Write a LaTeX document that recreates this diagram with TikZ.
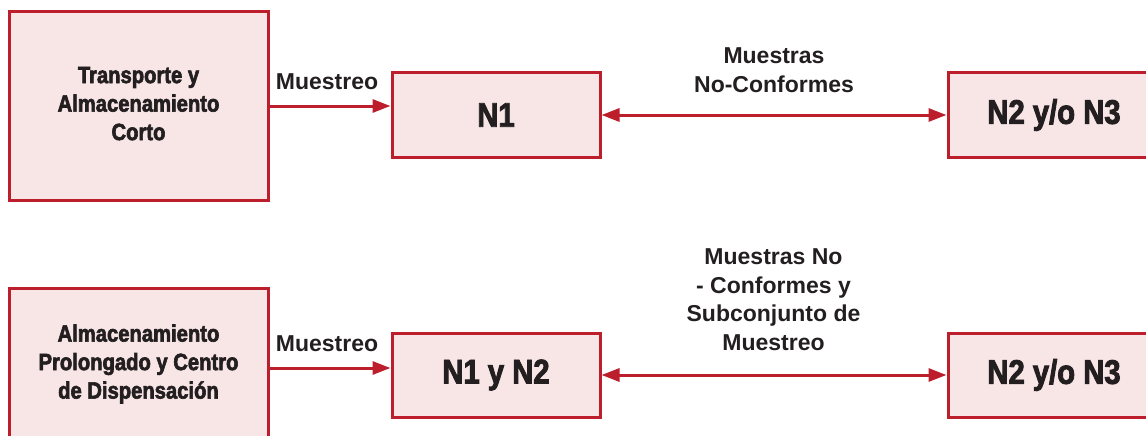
\documentclass[tikz,border=0pt]{standalone}
\usepackage{fontspec}
\usetikzlibrary{arrows.meta}
\setmainfont{Liberation Sans}
% condensed heavy face for the box captions
\newfontfamily\boxfont[FakeStretch=0.86,FakeBold=2.6]{Liberation Sans Bold}
\newfontfamily\labelfont{Liberation Sans Bold}
\definecolor{boxred}{HTML}{BC1F2B}
\definecolor{boxfill}{HTML}{F8E5E6}
\definecolor{ink}{HTML}{231F20}
\tikzset{
  stagebox/.style={draw=boxred, fill=boxfill, line width=3pt, inner sep=0pt,
    text=ink, align=center},
  smallcap/.style={stagebox, font=\boxfont\fontsize{23.5}{28.5}\selectfont},
  bigcap/.style={stagebox, font=\boxfont\fontsize{34}{40}\selectfont,
    minimum width=208pt, minimum height=84pt},
  edgelabel/.style={inner sep=0pt, text=ink, align=center,
    font=\labelfont\fontsize{23}{28.7}\selectfont},
  flow/.style={draw=boxred, line width=3pt,
    -{Triangle[length=18pt,width=13pt]}},
  twoway/.style={draw=boxred, line width=3pt,
    {Triangle[length=18pt,width=13pt]}-{Triangle[length=18pt,width=13pt]}}
}
\begin{document}
\begin{tikzpicture}[x=1pt,y=-1pt]
\useasboundingbox (0,0) rectangle (1146,436);
\clip (0,0) rectangle (1146,436);

% upper row
\node[smallcap, minimum width=259pt, minimum height=188pt, text depth=5pt]
  (a1) at (138.5,106) {Transporte y\\Almacenamiento\\Corto};
\node[bigcap] (n1) at (496,115) {N1};
\node[bigcap, minimum width=212pt] (r1) at (1054,115) {N2 y/o N3};

\draw[flow] (a1.east) -- (a1.east -| n1.west);
\node[edgelabel, anchor=base] (m1) at (327,89) {Muestreo};
\draw[twoway] (n1.east) -- (r1.west);
\node[edgelabel, anchor=south] (l1) at (774,93) {Muestras\\No-Conformes};

% lower row
\node[smallcap, minimum width=259pt, minimum height=152pt] (a2) at (138.5,364)
  {Almacenamiento\\Prolongado y Centro\\de Dispensación};
\node[bigcap] (n2) at (496,375) {N1 y N2};
\node[bigcap, minimum width=212pt] (r2) at (1054,375) {N2 y/o N3};

\draw[flow] ([yshift=-4pt]a2.east) -- ([yshift=-4pt]a2.east -| n2.west);
\node[edgelabel, anchor=base] (m2) at (327,351) {Muestreo};
\draw[twoway] (n2.east) -- (r2.west);
\node[edgelabel, anchor=south] (l2) at (773.5,351)
  {Muestras No\\- Conformes y\\Subconjunto de\\Muestreo};
\end{tikzpicture}
\end{document}
